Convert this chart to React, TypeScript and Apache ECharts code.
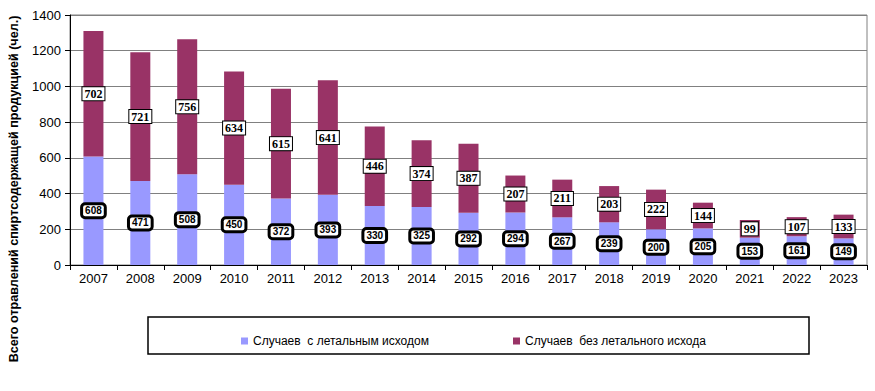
import React, { useEffect, useRef } from "react";
import * as echarts from "echarts";

const years = ["2007","2008","2009","2010","2011","2012","2013","2014","2015","2016","2017","2018","2019","2020","2021","2022","2023"];
const fatal = [608,471,508,450,372,393,330,325,292,294,267,239,200,205,153,161,149];
const nonFatal = [702,721,756,634,615,641,446,374,387,207,211,203,222,144,99,107,133];
const fatalName = "Случаев  с летальным исходом";
const nonFatalName = "Случаев  без летального исхода";
const yTitle = "Всего отравлений спиртсодержащей продукцией (чел.)";

export default function App() {
  const ref = useRef<HTMLDivElement>(null);
  useEffect(() => {
    if (!ref.current) return;
    const chart = echarts.init(ref.current, null, { renderer: "svg" });
    const legendBase = {
      orient: "horizontal",
      top: 330,
      icon: "rect",
      itemWidth: 7,
      itemHeight: 7,
      textStyle: { fontFamily: "Liberation Sans, Arial", fontSize: 12, color: "#000" },
    };
    chart.setOption({
      animation: false,
      backgroundColor: "#fff",
      grid: { left: 70, right: 8, top: 15, bottom: 126, show: true, borderColor: "#808080", borderWidth: 1 },
      legend: [
        { ...legendBase, left: 236, data: [fatalName] },
        { ...legendBase, left: 508, data: [nonFatalName] },
      ],
      xAxis: {
        type: "category",
        data: years,
        axisLine: { lineStyle: { color: "#000", width: 1 } },
        axisTick: { show: true, alignWithLabel: false, length: 5, lineStyle: { color: "#000" } },
        axisLabel: { fontFamily: "Liberation Sans, Arial", fontSize: 13, color: "#000", margin: 7 },
      },
      yAxis: {
        type: "value",
        min: 0,
        max: 1400,
        interval: 200,
        axisLine: { show: true, lineStyle: { color: "#000", width: 1 } },
        axisTick: { show: true, length: 5, lineStyle: { color: "#000" } },
        axisLabel: {
          fontFamily: "Liberation Sans, Arial",
          fontSize: 13,
          color: "#000",
          margin: 9,
          formatter: (v: number) => String(v),
        },
        splitLine: { lineStyle: { color: "#808080", width: 1 } },
      },
      series: [
        {
          name: fatalName,
          type: "bar",
          stack: "total",
          data: fatal,
          barWidth: 20,
          itemStyle: { color: "#9999FF" },
          label: {
            show: true,
            position: "inside",
            fontFamily: "Liberation Sans, Arial",
            fontWeight: "bold",
            fontSize: 10,
            color: "#000",
            backgroundColor: "#fff",
            borderColor: "#000",
            borderWidth: 3,
            borderRadius: 2,
            padding: [1, 2, 0, 2],
          },
        },
        {
          name: nonFatalName,
          type: "bar",
          stack: "total",
          data: nonFatal,
          barWidth: 20,
          itemStyle: { color: "#993366" },
          label: {
            show: true,
            position: "inside",
            fontFamily: "Liberation Serif, Times New Roman",
            fontWeight: "bold",
            fontSize: 12,
            color: "#000",
            backgroundColor: "#fff",
            borderColor: "#000",
            borderWidth: 1,
            padding: [1, 2, 0, 2],
          },
        },
      ],
      graphic: [
        {
          type: "rect",
          shape: { x: 148, y: 317, width: 661, height: 37 },
          style: { fill: "none", stroke: "#000", lineWidth: 1.5 },
          z: 0,
        },
        {
          type: "text",
          x: 14,
          y: 189,
          rotation: Math.PI / 2,
          style: {
            text: yTitle,
            fontFamily: "Liberation Sans, Arial",
            fontWeight: "bold",
            fontSize: 12.6,
            fill: "#000",
            textAlign: "center",
            textVerticalAlign: "middle",
          },
        },
      ],
    });
    return () => chart.dispose();
  }, []);
  return <div ref={ref} style={{ position: "fixed", left: 0, top: 0, width: 875, height: 391 }} />;
}
